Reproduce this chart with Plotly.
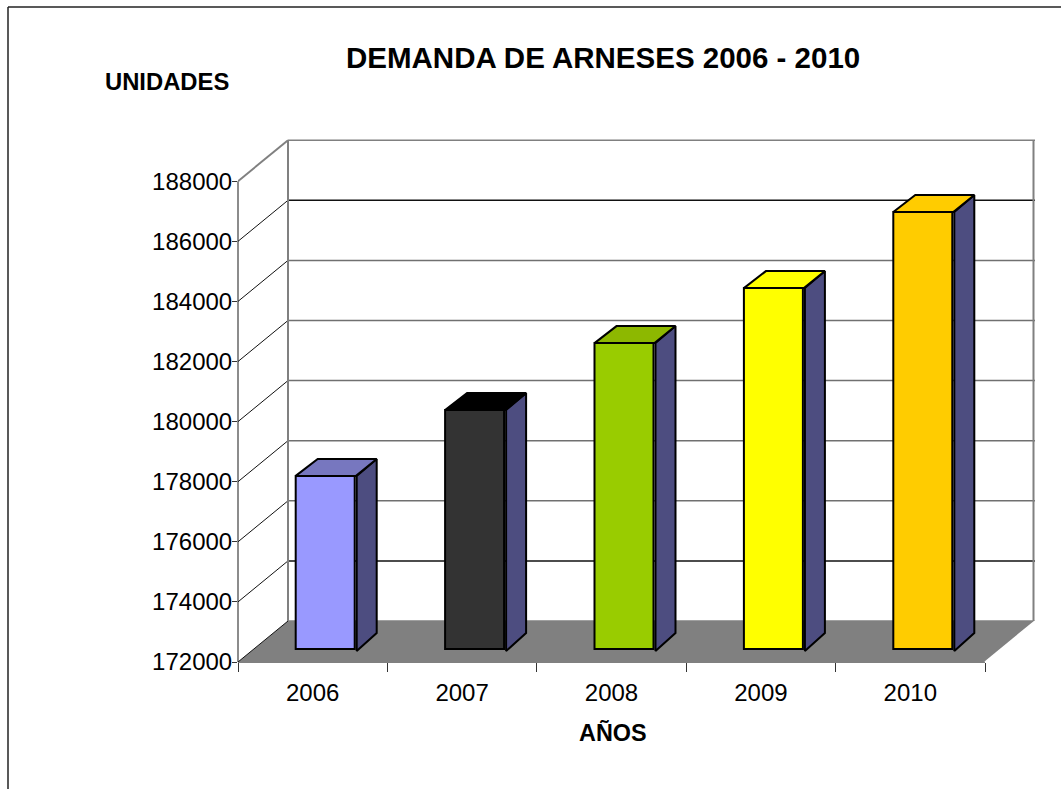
import plotly.graph_objects as go

# values
years = ["2006", "2007", "2008", "2009", "2010"]
demand = [177760, 179950, 182180, 184010, 186540]
front_colors = ["#9999FF", "#333333", "#99CC00", "#FFFF00", "#FFCC00"]
top_colors = ["#7777BF", "#000000", "#8DB800", "#FFFF00", "#FFCC00"]
side_color = "#4D4D80"
y_ticks = [172000, 174000, 176000, 178000, 180000, 182000, 184000, 186000, 188000]
grid_colors = ["#808080", "#111111", "#707070", "#707070", "#707070", "#707070", "#707070", "#111111", "#808080"]

W, H = 1061, 789
LEFT, RIGHT, TOP, BOTTOM = 238, 1040, 130, 662
PX_PER_CAT = 149.4
PX_PER_UNIT = 60.1 / 2000
DEPTH_X = 50 / PX_PER_CAT
DEPTH_Y = 41 / PX_PER_UNIT
Y0 = y_ticks[0]
Y_END = Y0 + (BOTTOM - TOP) / PX_PER_UNIT
X0 = -0.5
X_END = X0 + (RIGHT - LEFT) / PX_PER_CAT
X_FRONT_END = len(years) - 0.5


def px_x(n):
    return n / PX_PER_CAT


def px_y(n):
    return n / PX_PER_UNIT


def paper_x(p):
    return (p - LEFT) / (RIGHT - LEFT)


def paper_y(p):
    return (BOTTOM - p) / (BOTTOM - TOP)


fig = go.Figure()

# bars stand a bit inside the floor
bar_width = px_x(59)
shift_x = px_x(12.5)
shift_y = px_y(13)
positions = [i + shift_x for i in range(len(years))]

fig.add_trace(go.Bar(
    x=positions,
    y=[v - Y0 for v in demand],
    base=Y0 + shift_y,
    width=bar_width,
    marker=dict(color=front_colors, line=dict(color="black", width=2)),
    hoverinfo="skip",
))

for i, v in enumerate(demand):
    lx = positions[i] - bar_width / 2
    rx = positions[i] + bar_width / 2
    t = v + shift_y
    b = Y0 + shift_y
    # side face
    fig.add_trace(go.Scatter(
        x=[rx + px_x(2), rx + px_x(22), rx + px_x(22), rx + px_x(2), rx + px_x(2)],
        y=[t, t + px_y(17), b + px_y(16), b - px_y(2), t],
        mode="lines", fill="toself", fillcolor=side_color,
        line=dict(color="black", width=2), hoverinfo="skip",
    ))
    # top face
    fig.add_trace(go.Scatter(
        x=[lx, lx + px_x(22), rx + px_x(22), rx + px_x(1), lx],
        y=[t, t + px_y(17), t + px_y(17), t, t],
        mode="lines", fill="toself", fillcolor=top_colors[i],
        line=dict(color="black", width=2), hoverinfo="skip",
    ))

shapes = []


def seg(x0, y0, x1, y1, color, width=1, xref="x", yref="y"):
    shapes.append(dict(type="line", xref=xref, yref=yref, x0=x0, y0=y0, x1=x1, y1=y1,
                       layer="below", line=dict(color=color, width=width)))


# floor
shapes.append(dict(
    type="path", xref="x", yref="y", layer="below", fillcolor="#808080",
    line=dict(color="rgba(0,0,0,0)", width=0),
    path=f"M {X0} {Y0} L {X0 + DEPTH_X} {Y0 + DEPTH_Y} L {X_FRONT_END + DEPTH_X} {Y0 + DEPTH_Y} "
         f"L {X_FRONT_END} {Y0} Z",
))

# walls and grid
for tick, c in zip(y_ticks, grid_colors):
    seg(X0, tick, X0 + DEPTH_X, tick + DEPTH_Y, "#111111" if tick < y_ticks[-1] else "#808080",
        1 if tick < y_ticks[-1] else 2)
    seg(X0 + DEPTH_X, tick + DEPTH_Y, X_FRONT_END + DEPTH_X, tick + DEPTH_Y, c, 1.5)
seg(X0 + DEPTH_X, Y0 + DEPTH_Y, X0 + DEPTH_X, y_ticks[-1] + DEPTH_Y, "#808080", 2)
seg(X_FRONT_END + DEPTH_X - px_x(1.5), Y0 + DEPTH_Y, X_FRONT_END + DEPTH_X - px_x(1.5), y_ticks[-1] + DEPTH_Y, "#808080", 2)
# these two sit on the plot edge, paper refs keep them from being clipped
seg(0, Y0, 0, y_ticks[-1], "#666666", 1.5, xref="paper")
seg(X0, 0, X_FRONT_END, 0, "#808080", 2, yref="paper")
seg(X_FRONT_END, Y0, X_FRONT_END + DEPTH_X, Y0 + DEPTH_Y, "#FFFFFF", 1.5)

# outer frame, only left and top are in the picture
frame = dict(type="line", xref="paper", yref="paper", layer="above", line=dict(color="#222222", width=1.5))
shapes.append(dict(frame, x0=paper_x(8), x1=paper_x(8), y0=paper_y(7), y1=paper_y(H)))
shapes.append(dict(frame, x0=paper_x(8), x1=paper_x(W), y0=paper_y(7), y1=paper_y(7)))

texts = [
    ("DEMANDA DE ARNESES 2006 - 2010", 602.5, 58, 29.5),
    ("UNIDADES", 167, 81, 23.8),
    ("AÑOS", 613, 732, 23.4),
]
annotations = [
    dict(text=f"<b>{s}</b>", xref="paper", yref="paper", x=paper_x(px), y=paper_y(py),
         xanchor="center", yanchor="middle", showarrow=False,
         font=dict(family="Liberation Sans", size=size, color="black"))
    for s, px, py, size in texts
]

fig.update_layout(
    width=W, height=H,
    margin=dict(l=LEFT, r=W - RIGHT, t=TOP, b=H - BOTTOM, pad=0),
    paper_bgcolor="white", plot_bgcolor="white",
    showlegend=False,
    shapes=shapes,
    annotations=annotations,
    font=dict(family="Liberation Sans", size=24, color="black"),
    xaxis=dict(
        range=[X0, X_END], showgrid=False, zeroline=False, showline=False,
        tickmode="array", tickvals=list(range(len(years))), ticktext=years,
        ticks="", ticklabelstandoff=14,
        minor=dict(tickmode="array", tickvals=[i - 0.5 for i in range(len(years) + 1)],
                   ticks="outside", ticklen=9, tickwidth=1, tickcolor="#333333", showgrid=False),
    ),
    yaxis=dict(
        range=[Y0, Y_END], showgrid=False, zeroline=False, showline=False,
        tickmode="array", tickvals=y_ticks, ticktext=[str(t) for t in y_ticks],
        ticks="outside", ticklen=5, tickwidth=1, tickcolor="#333333", ticklabelstandoff=-5,
    ),
)

fig.write_html("out.html", config={"displayModeBar": False},
               post_script="document.body.style.margin='0';document.body.style.overflow='hidden';")
